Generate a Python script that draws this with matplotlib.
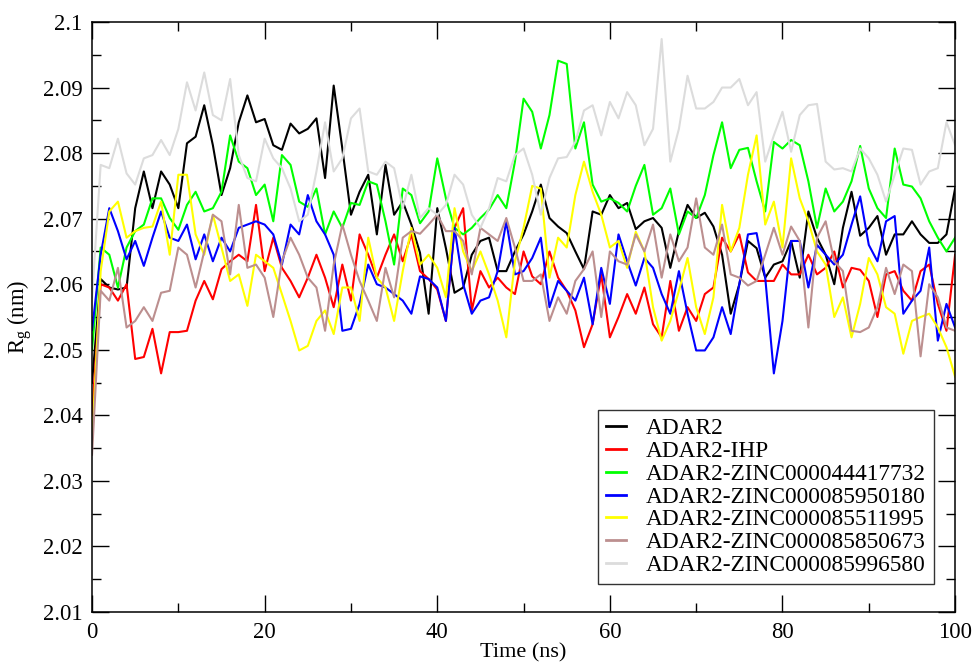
import matplotlib
matplotlib.use('Agg')
import matplotlib.pyplot as plt
import numpy as np
from matplotlib.ticker import MultipleLocator, FuncFormatter

plt.rcParams['font.family'] = ['Liberation Serif', 'DejaVu Serif']
plt.rcParams['mathtext.fontset'] = 'custom'
plt.rcParams['mathtext.rm'] = 'Liberation Serif'
plt.rcParams['mathtext.it'] = 'Liberation Serif:italic'

# time in ns (1 ns sampling)
time = np.arange(0, 101)

labels = ['ADAR2', 'ADAR2-IHP', 'ADAR2-ZINC000044417732', 'ADAR2-ZINC000085950180',
          'ADAR2-ZINC000085511995', 'ADAR2-ZINC000085850673', 'ADAR2-ZINC000085996580']
colors = ['#000000', '#ff0000', '#00ff00', '#0000ff', '#ffff00', '#bc8f8f', '#dcdcdc']

adar2 = [2.045,
         2.0608, 2.0595, 2.0592, 2.0595, 2.0716, 2.0772, 2.0716, 2.0772, 2.0752, 2.0716,
         2.0815, 2.0825, 2.0873, 2.0812, 2.0736, 2.0777, 2.0847, 2.0888, 2.0847, 2.0852,
         2.0812, 2.0805, 2.0845, 2.0830, 2.0837, 2.0853, 2.0762, 2.0903, 2.0807, 2.0706,
         2.0741, 2.0767, 2.0676, 2.0782, 2.0706, 2.0726, 2.0691, 2.0648, 2.0555, 2.0716,
         2.0655, 2.0587, 2.0595, 2.0645, 2.0666, 2.0671, 2.0620, 2.0620, 2.0650, 2.0676,
         2.0711, 2.0752, 2.0701, 2.0688, 2.0678, 2.0650, 2.0623, 2.0711, 2.0706, 2.0736,
         2.0716, 2.0724, 2.0684, 2.0696, 2.0701, 2.0686, 2.0625, 2.0681, 2.0721, 2.0701,
         2.0709, 2.0688, 2.0645, 2.0555, 2.0600, 2.0666, 2.0655, 2.0610, 2.0630, 2.0635,
         2.0666, 2.0610, 2.0711, 2.0671, 2.0645, 2.0600, 2.0686, 2.0741, 2.0674, 2.0686,
         2.0704, 2.0645, 2.0676, 2.0676, 2.0696, 2.0676, 2.0663, 2.0663, 2.0676, 2.0746]

ihp = [2.040,
       2.0600, 2.0595, 2.0575, 2.0600, 2.0486, 2.0489, 2.0532, 2.0464, 2.0527, 2.0527,
       2.0529, 2.0575, 2.0605, 2.0577, 2.0623, 2.0635, 2.0645, 2.0635, 2.0721, 2.0620,
       2.0671, 2.0625, 2.0605, 2.0580, 2.0610, 2.0645, 2.0610, 2.0565, 2.0630, 2.0575,
       2.0676, 2.0645, 2.0610, 2.0645, 2.0676, 2.0635, 2.0676, 2.0620, 2.0608, 2.0592,
       2.0544, 2.0686, 2.0716, 2.0560, 2.0620, 2.0595, 2.0610, 2.0595, 2.0585, 2.0650,
       2.0612, 2.0600, 2.0650, 2.0610, 2.0590, 2.0560, 2.0504, 2.0539, 2.0615, 2.0519,
       2.0550, 2.0585, 2.0555, 2.0595, 2.0539, 2.0519, 2.0605, 2.0529, 2.0565, 2.0544,
       2.0585, 2.0595, 2.0671, 2.0650, 2.0676, 2.0618, 2.0605, 2.0605, 2.0605, 2.0630,
       2.0615, 2.0615, 2.0645, 2.0615, 2.0625, 2.0650, 2.0595, 2.0625, 2.0622, 2.0605,
       2.0550, 2.0615, 2.0620, 2.0590, 2.0575, 2.0620, 2.0630, 2.0570, 2.0529, 2.0645]

zinc44417732 = [2.050,
                2.0656, 2.0645, 2.0595, 2.0656, 2.0681, 2.0691, 2.0731, 2.0731, 2.0701, 2.0683,
                2.0721, 2.0741, 2.0711, 2.0716, 2.0741, 2.0827, 2.0787, 2.0777, 2.0736, 2.0752,
                2.0696, 2.0797, 2.0782, 2.0726, 2.0718, 2.0746, 2.0676, 2.0711, 2.0686, 2.0724,
                2.0721, 2.0757, 2.0752, 2.0696, 2.0630, 2.0746, 2.0736, 2.0693, 2.0711, 2.0792,
                2.0731, 2.0686, 2.0676, 2.0686, 2.0701, 2.0714, 2.0736, 2.0716, 2.0787, 2.0883,
                2.0863, 2.0807, 2.0858, 2.0941, 2.0936, 2.0807, 2.0847, 2.0752, 2.0726, 2.0731,
                2.0724, 2.0711, 2.0750, 2.0782, 2.0706, 2.0716, 2.0746, 2.0676, 2.0711, 2.0701,
                2.0736, 2.0797, 2.0847, 2.0777, 2.0805, 2.0808, 2.0757, 2.0711, 2.0817, 2.0807,
                2.0820, 2.0812, 2.0757, 2.0686, 2.0746, 2.0711, 2.0726, 2.0757, 2.0811, 2.0746,
                2.0716, 2.0701, 2.0807, 2.0752, 2.0749, 2.0731, 2.0696, 2.0671, 2.0650, 2.0671]

zinc85950180 = [2.053,
                2.0645, 2.0716, 2.0681, 2.0638, 2.0666, 2.0628, 2.0671, 2.0711, 2.0671, 2.0666,
                2.0691, 2.0638, 2.0676, 2.0635, 2.0671, 2.0650, 2.0686, 2.0691, 2.0696, 2.0691,
                2.0676, 2.0630, 2.0691, 2.0676, 2.0736, 2.0696, 2.0676, 2.0645, 2.0529, 2.0532,
                2.0570, 2.0630, 2.0600, 2.0595, 2.0585, 2.0575, 2.0555, 2.0612, 2.0608, 2.0595,
                2.0544, 2.0686, 2.0600, 2.0555, 2.0575, 2.0580, 2.0620, 2.0696, 2.0615, 2.0620,
                2.0640, 2.0671, 2.0565, 2.0605, 2.0590, 2.0575, 2.0610, 2.0539, 2.0625, 2.0570,
                2.0676, 2.0635, 2.0598, 2.0640, 2.0625, 2.0585, 2.0555, 2.0620, 2.0555, 2.0499,
                2.0499, 2.0519, 2.0565, 2.0524, 2.0600, 2.0676, 2.0678, 2.0610, 2.0464, 2.0544,
                2.0666, 2.0666, 2.0595, 2.0660, 2.0645, 2.0630, 2.0645, 2.0691, 2.0734, 2.0660,
                2.0635, 2.0696, 2.0704, 2.0555, 2.0575, 2.0590, 2.0656, 2.0514, 2.0570, 2.0534]

zinc85511995 = [2.036,
                2.0620, 2.0711, 2.0726, 2.0671, 2.0681, 2.0686, 2.0688, 2.0726, 2.0645, 2.0767,
                2.0767, 2.0676, 2.0645, 2.0706, 2.0656, 2.0605, 2.0615, 2.0567, 2.0645, 2.0635,
                2.0625, 2.0585, 2.0544, 2.0499, 2.0506, 2.0544, 2.0560, 2.0524, 2.0595, 2.0595,
                2.0544, 2.0671, 2.0610, 2.0595, 2.0544, 2.0620, 2.0686, 2.0630, 2.0645, 2.0625,
                2.0580, 2.0716, 2.0650, 2.0620, 2.0650, 2.0615, 2.0575, 2.0519, 2.0635, 2.0686,
                2.0750, 2.0746, 2.0610, 2.0671, 2.0656, 2.0736, 2.0787, 2.0741, 2.0706, 2.0656,
                2.0666, 2.0625, 2.0680, 2.0650, 2.0565, 2.0514, 2.0544, 2.0590, 2.0640, 2.0565,
                2.0524, 2.0580, 2.0721, 2.0650, 2.0686, 2.0767, 2.0827, 2.0691, 2.0726, 2.0656,
                2.0792, 2.0731, 2.0696, 2.0650, 2.0630, 2.0550, 2.0580, 2.0519, 2.0570, 2.0640,
                2.0615, 2.0565, 2.0555, 2.0494, 2.0544, 2.0550, 2.0555, 2.0534, 2.0504, 2.0459]

zinc85850673 = [2.034,
                2.0590, 2.0575, 2.0625, 2.0534, 2.0544, 2.0565, 2.0544, 2.0587, 2.0590, 2.0656,
                2.0645, 2.0595, 2.0650, 2.0706, 2.0696, 2.0615, 2.0721, 2.0625, 2.0630, 2.0610,
                2.0550, 2.0635, 2.0671, 2.0645, 2.0610, 2.0595, 2.0529, 2.0630, 2.0691, 2.0645,
                2.0605, 2.0575, 2.0544, 2.0625, 2.0580, 2.0671, 2.0681, 2.0677, 2.0691, 2.0706,
                2.0681, 2.0681, 2.0666, 2.0615, 2.0686, 2.0676, 2.0666, 2.0701, 2.0656, 2.0605,
                2.0605, 2.0615, 2.0544, 2.0580, 2.0555, 2.0605, 2.0623, 2.0650, 2.0550, 2.0650,
                2.0635, 2.0630, 2.0676, 2.0650, 2.0691, 2.0610, 2.0676, 2.0635, 2.0656, 2.0731,
                2.0656, 2.0645, 2.0691, 2.0615, 2.0610, 2.0598, 2.0605, 2.0645, 2.0686, 2.0645,
                2.0688, 2.0666, 2.0534, 2.0671, 2.0696, 2.0635, 2.0620, 2.0529, 2.0527, 2.0534,
                2.0565, 2.0625, 2.0585, 2.0630, 2.0620, 2.0490, 2.0600, 2.0580, 2.0534, 2.0529]

zinc85996580 = [2.058,
                2.0782, 2.0777, 2.0822, 2.0769, 2.0752, 2.0792, 2.0797, 2.0820, 2.0797, 2.0837,
                2.0908, 2.0865, 2.0923, 2.0858, 2.0850, 2.0913, 2.0797, 2.0762, 2.0757, 2.0822,
                2.0792, 2.0777, 2.0746, 2.0696, 2.0706, 2.0772, 2.0847, 2.0772, 2.0792, 2.0853,
                2.0868, 2.0772, 2.0767, 2.0787, 2.0777, 2.0716, 2.0767, 2.0701, 2.0716, 2.0706,
                2.0721, 2.0767, 2.0752, 2.0706, 2.0686, 2.0716, 2.0762, 2.0757, 2.0797, 2.0807,
                2.0767, 2.0706, 2.0762, 2.0792, 2.0794, 2.0817, 2.0865, 2.0873, 2.0827, 2.0878,
                2.0853, 2.0893, 2.0873, 2.0812, 2.0837, 2.0974, 2.0787, 2.0837, 2.0918, 2.0868,
                2.0868, 2.0878, 2.0900, 2.0900, 2.0913, 2.0873, 2.0893, 2.0787, 2.0827, 2.0863,
                2.0802, 2.0858, 2.0873, 2.0875, 2.0787, 2.0775, 2.0777, 2.0772, 2.0807, 2.0792,
                2.0767, 2.0726, 2.0767, 2.0807, 2.0805, 2.0752, 2.0772, 2.0777, 2.0847, 2.0812]

series = [adar2, ihp, zinc44417732, zinc85950180, zinc85511995, zinc85850673, zinc85996580]

fig = plt.figure(figsize=(9.73, 6.66), dpi=100)
ax = fig.add_axes([0.0946, 0.081, 0.887, 0.886])

for vals, lab, col in zip(series, labels, colors):
    ax.plot(time, vals, color=col, lw=1.5, label=lab)

ax.set_xlim(0, 100)
ax.set_ylim(2.01, 2.1)
ax.xaxis.set_major_locator(MultipleLocator(20))
ax.xaxis.set_minor_locator(MultipleLocator(10))
ax.yaxis.set_major_locator(MultipleLocator(0.01))
ax.yaxis.set_minor_locator(MultipleLocator(0.005))
ax.yaxis.set_major_formatter(FuncFormatter(lambda v, p: f'{round(v, 3):g}'))
ax.tick_params(which='both', direction='in', top=True, right=True, width=1.0,
               labelsize=16.3, pad=7)
ax.tick_params(which='major', length=12)
ax.tick_params(which='minor', length=6.5)
ax.tick_params(axis='x', pad=7)
for s in ax.spines.values():
    s.set_linewidth(1.1)

ax.set_xlabel('Time (ns)', fontsize=16, labelpad=0)
ax.set_ylabel(r'R$_\mathrm{g}$ (nm)', fontsize=16.3, labelpad=6)

leg = ax.legend(loc='upper left', bbox_to_anchor=(598 / 973, 1 - 410 / 666),
                bbox_transform=fig.transFigure, fontsize=16.8, frameon=True,
                fancybox=False, shadow=False, handlelength=0.85, handletextpad=0.85,
                labelspacing=0.06, borderpad=0.35, borderaxespad=0)
leg.get_frame().set_edgecolor('black')
leg.get_frame().set_linewidth(1.0)
for h in leg.get_lines():
    h.set_linewidth(2)

fig.savefig('out.png', dpi=100)
